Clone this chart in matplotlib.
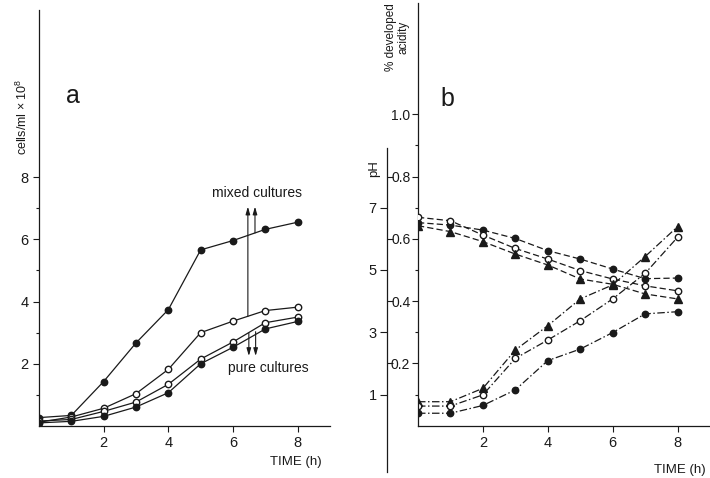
import matplotlib
matplotlib.use('Agg')
import matplotlib.pyplot as plt
import numpy as np

plt.rcParams['font.family'] = ['Liberation Sans', 'DejaVu Sans']
plt.rcParams['mathtext.fontset'] = 'custom'
plt.rcParams['mathtext.rm'] = 'Liberation Sans'

# ---------------- data ----------------
time_h = [0, 1, 2, 3, 4, 5, 6, 7, 8]

# panel a: cells/ml x 10^8
a_mixed_filled = [0.27, 0.34, 1.43, 2.67, 3.74, 5.66, 5.96, 6.32, 6.55]
a_mixed_open = [0.12, 0.29, 0.57, 1.04, 1.82, 3.00, 3.37, 3.71, 3.82]
a_pure_open = [0.16, 0.21, 0.47, 0.77, 1.34, 2.15, 2.70, 3.32, 3.50]
a_pure_filled = [0.10, 0.15, 0.31, 0.61, 1.07, 2.00, 2.53, 3.12, 3.36]

# panel b: pH (decreasing)
ph_filled = [6.52, 6.44, 6.28, 6.01, 5.62, 5.35, 5.03, 4.72, 4.74]
ph_open = [6.69, 6.58, 6.12, 5.69, 5.35, 4.98, 4.71, 4.49, 4.33]
ph_tri = [6.42, 6.23, 5.91, 5.51, 5.16, 4.71, 4.54, 4.23, 4.07]

# panel b: % developed acidity (increasing)
acid_tri = [0.077, 0.077, 0.120, 0.243, 0.321, 0.407, 0.452, 0.543, 0.639]
acid_open = [0.063, 0.063, 0.099, 0.216, 0.275, 0.337, 0.407, 0.489, 0.605]
acid_filled = [0.040, 0.040, 0.065, 0.115, 0.209, 0.246, 0.299, 0.359, 0.366]

a_xticks = [2, 4, 6, 8]
a_yticks = [2, 4, 6, 8]
a_yminor = [1, 3, 5, 7]
b_yticks = [0.2, 0.4, 0.6, 0.8, 1.0]
b_yminor = [0.1, 0.3, 0.5, 0.7, 0.9]
ph_ticks = [1, 3, 5, 7]
ph_minor = [2, 4, 6, 8]

# ---------------- figure ----------------
W, H = 710, 478
INK = '#1a1a1a'
TICK_FS = 10.5
fig = plt.figure(figsize=(W / 100, H / 100), dpi=100)
fig.patch.set_facecolor('white')

def fy(py):
    return 1 - py / H

axa = fig.add_axes([39 / W, fy(426), 291 / W, 416 / H])
axb = fig.add_axes([418 / W, fy(425.7), 292 / W, 422.7 / H])

def style(ax):
    for s in ('top', 'right'):
        ax.spines[s].set_visible(False)
    for s in ('left', 'bottom'):
        ax.spines[s].set_linewidth(0.9)
        ax.spines[s].set_color(INK)
    ax.tick_params(which='major', direction='out', length=4.5, width=0.8,
                   labelsize=TICK_FS, colors=INK, pad=3)
    ax.tick_params(which='minor', direction='out', length=2.5, width=0.8, colors=INK)
    ax.set_facecolor('none')

style(axa)
style(axb)

lw = 0.9
ms = 4.6
# panel a
axa.plot(time_h, a_mixed_filled, '-', color=INK, lw=lw, marker='o', ms=ms, mfc=INK, mec=INK)
axa.plot(time_h, a_mixed_open, '-', color=INK, lw=lw, marker='o', ms=ms, mfc='white', mec=INK, mew=1.0)
axa.plot(time_h, a_pure_open, '-', color=INK, lw=lw, marker='o', ms=ms, mfc='white', mec=INK, mew=1.0)
axa.plot(time_h, a_pure_filled, '-', color=INK, lw=lw, marker='o', ms=ms, mfc=INK, mec=INK)

axa.set_xlim(0, 9)
axa.set_ylim(0, 13.37)
axa.set_xticks(a_xticks)
axa.set_yticks(a_yticks)
axa.set_yticks(a_yminor, minor=True)

# arrows in panel a
ap = dict(arrowstyle='-|>,head_length=0.45,head_width=0.13', color=INK, lw=0.8,
          shrinkA=0, shrinkB=0)
xl, xr = 6.46, 6.68
axa.annotate('', xy=(xl, 7.05), xytext=(xl, np.interp(xl, time_h, a_mixed_open)), arrowprops=ap)
axa.annotate('', xy=(xr, 7.05), xytext=(xr, np.interp(xr, time_h, a_mixed_filled)), arrowprops=ap)
axa.annotate('', xy=(xl + 0.03, 2.25), xytext=(xl + 0.03, np.interp(xl, time_h, a_pure_open)), arrowprops=ap)
axa.annotate('', xy=(xr + 0.02, 2.25), xytext=(xr + 0.02, np.interp(xr, time_h, a_pure_filled) + 0.1), arrowprops=ap)
axa.text(6.73, 7.5, 'mixed cultures', ha='center', va='center', fontsize=10, color=INK)
axa.text(7.1, 1.86, 'pure cultures', ha='center', va='center', fontsize=10, color=INK)
axa.text(1.05, 10.6, 'a', ha='center', va='center', fontsize=18, color=INK)
fig.text(22 / W, fy(117), 'cells/ml × 10$^{8}$', rotation=90, ha='center', va='center',
         fontsize=9, color=INK)
fig.text(296 / W, fy(462), 'TIME (h)', ha='center', va='center', fontsize=9.5, color=INK)

# panel b: acidity axis
axb.set_xlim(0, 9)
axb.set_ylim(0, 1.357)
axb.set_xticks(a_xticks)
axb.set_yticks(b_yticks)
axb.set_yticklabels([f'{v:.1f}' for v in b_yticks])
axb.set_yticks(b_yminor, minor=True)
axb.tick_params(axis='y', which='major', length=4, pad=1.5, labelsize=10)

dash_ph = (0, (5, 2.5))
dash_ac = (0, (6, 2, 1.2, 2))
axb.plot(time_h, acid_tri, linestyle=dash_ac, color=INK, lw=lw, marker='^', ms=ms + 0.6, mfc=INK, mec=INK)
axb.plot(time_h, acid_open, linestyle=dash_ac, color=INK, lw=lw, marker='o', ms=ms, mfc='white', mec=INK, mew=1.0)
axb.plot(time_h, acid_filled, linestyle=dash_ac, color=INK, lw=lw, marker='o', ms=ms, mfc=INK, mec=INK)

# pH axis (offset left)
axp = axb.twinx()
axp.set_facecolor('none')
for s in ('top', 'right', 'bottom'):
    axp.spines[s].set_visible(False)
axp.spines['left'].set_visible(True)
axp.spines['left'].set_position(('axes', -31 / 292))
axp.spines['left'].set_linewidth(0.9)
axp.spines['left'].set_color(INK)
axp.yaxis.set_ticks_position('left')
axp.yaxis.set_label_position('left')
axp.set_ylim(0, 13.57)
axp.spines['left'].set_bounds(-1.5, 8.9)
axp.set_yticks(ph_ticks)
axp.set_yticks(ph_minor, minor=True)
axp.tick_params(which='major', direction='out', length=5, width=0.8, labelsize=TICK_FS, colors=INK, pad=2.5)
axp.tick_params(which='minor', direction='in', length=4, width=0.8, colors=INK)

axp.plot(time_h, ph_filled, linestyle=dash_ph, color=INK, lw=lw, marker='o', ms=ms, mfc=INK, mec=INK)
axp.plot(time_h, ph_open, linestyle=dash_ph, color=INK, lw=lw, marker='o', ms=ms, mfc='white', mec=INK, mew=1.0)
axp.plot(time_h, ph_tri, linestyle=dash_ph, color=INK, lw=lw, marker='^', ms=ms + 0.6, mfc=INK, mec=INK)

axb.text(0.9, 1.05, 'b', ha='center', va='center', fontsize=18, color=INK)
fig.text(374 / W, fy(169), 'pH', rotation=90, ha='center', va='center', fontsize=9.5, color=INK)
fig.text(397 / W, fy(37), '% developed\nacidity', rotation=90, ha='center', va='center',
         multialignment='center', fontsize=8.5, linespacing=1.0, color=INK)
fig.text(680 / W, fy(470), 'TIME (h)', ha='center', va='center', fontsize=9.5, color=INK)

fig.savefig('out.png', dpi=100, facecolor='white')
